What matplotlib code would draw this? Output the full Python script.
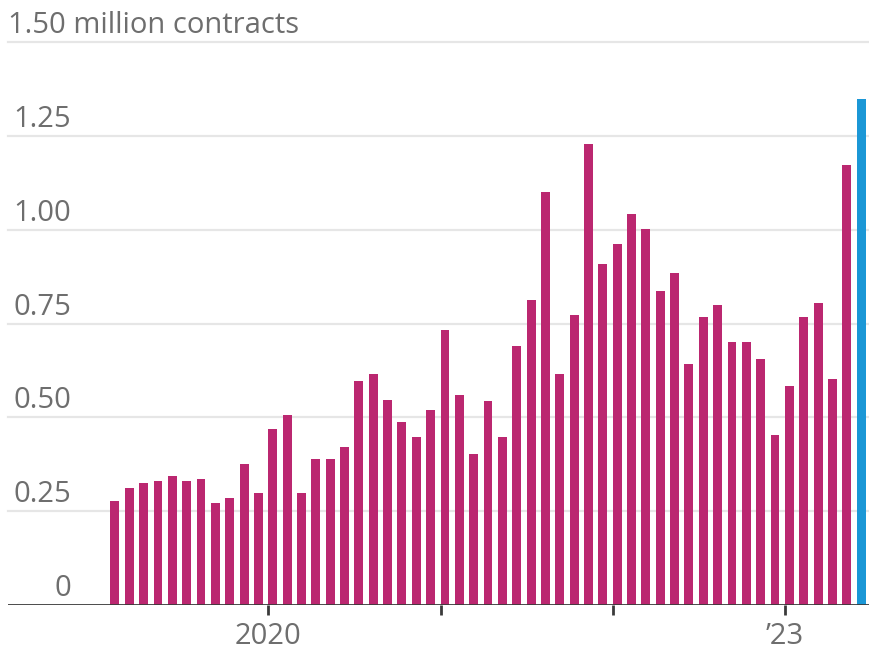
import matplotlib
matplotlib.use("Agg")
import matplotlib.pyplot as plt

# monthly volume, Feb 2019 .. Jun 2023 (million contracts)
months = [
    "2019-02", "2019-03", "2019-04", "2019-05", "2019-06", "2019-07", "2019-08",
    "2019-09", "2019-10", "2019-11", "2019-12",
    "2020-01", "2020-02", "2020-03", "2020-04", "2020-05", "2020-06", "2020-07",
    "2020-08", "2020-09", "2020-10", "2020-11", "2020-12",
    "2021-01", "2021-02", "2021-03", "2021-04", "2021-05", "2021-06", "2021-07",
    "2021-08", "2021-09", "2021-10", "2021-11", "2021-12",
    "2022-01", "2022-02", "2022-03", "2022-04", "2022-05", "2022-06", "2022-07",
    "2022-08", "2022-09", "2022-10", "2022-11", "2022-12",
    "2023-01", "2023-02", "2023-03", "2023-04", "2023-05", "2023-06",
]
volume = [
    0.278, 0.311, 0.324, 0.330, 0.343, 0.330, 0.337, 0.272, 0.285, 0.375, 0.299,
    0.468, 0.506, 0.299, 0.390, 0.390, 0.422, 0.598, 0.617, 0.546, 0.488, 0.448, 0.520,
    0.734, 0.559, 0.402, 0.545, 0.448, 0.690, 0.814, 1.100, 0.617, 0.773, 1.230, 0.910,
    0.963, 1.041, 1.001, 0.838, 0.884, 0.642, 0.769, 0.800, 0.702, 0.702, 0.656, 0.453,
    0.584, 0.767, 0.805, 0.603, 1.172, 1.348,
]
y_ticks = [0, 0.25, 0.50, 0.75, 1.00, 1.25, 1.50]
y_labels = ["0", "0.25", "0.50", "0.75", "1.00", "1.25", "1.50 million contracts"]
x_tick_months = ["2020-01", "2021-01", "2022-01", "2023-01"]
x_tick_labels = ["2020", "", "", "\u201923"]

PINK = "#bb2770"
BLUE = "#1b97d6"
GRAY_TEXT = "#6e6e6e"
GRID = "#e6e6e6"
FS = 21

plt.rcParams["font.family"] = ["Open Sans", "DejaVu Sans"]

fig = plt.figure(figsize=(8.69, 6.55), dpi=100)
W, H = 869, 655
left_px, right_px, base_px, top_px = 8, 869, 605, 42.3
ax = fig.add_axes([left_px / W, 1 - base_px / H,
                   (right_px - left_px) / W, (base_px - top_px) / H])

x = list(range(len(months)))
colors = [PINK] * (len(volume) - 1) + [BLUE]
ax.bar(x, volume, width=0.62, align="edge", color=colors, zorder=3)

ax.set_xlim(-7.14, 52.86)
ax.set_ylim(0, 1.5)

# horizontal grid, labels sit on top of each line
for v in y_ticks[1:]:
    ax.axhline(v, color=GRID, lw=1.6, zorder=1, clip_on=False)
num_x = (71 - left_px) / (right_px - left_px)
trans = ax.get_yaxis_transform()
for v, lab in zip(y_ticks, y_labels):
    if v == 1.5:
        ax.text(0, v + 0.024, lab, transform=trans, ha="left", va="baseline",
                fontsize=FS, color=GRAY_TEXT)
    else:
        ax.text(num_x, v + 0.024, lab, transform=trans, ha="right", va="baseline",
                fontsize=FS, color=GRAY_TEXT)

ax.axhline(0, color="#3a3a3a", lw=2, zorder=4)

# year ticks below the baseline
tick_pos = [months.index(m) for m in x_tick_months]
ax.set_xticks(tick_pos)
ax.set_xticklabels([])
ax.tick_params(axis="x", length=7, width=2, color="#3a3a3a")
ax.set_yticks([])
label_y = -(644 - base_px) / (base_px - top_px)
for p, lab in zip(tick_pos, x_tick_labels):
    ax.text(p, label_y, lab, transform=ax.get_xaxis_transform(), ha="center",
            va="baseline", fontsize=FS, color=GRAY_TEXT)

for s in ax.spines.values():
    s.set_visible(False)

fig.savefig("out.png", dpi=100)
